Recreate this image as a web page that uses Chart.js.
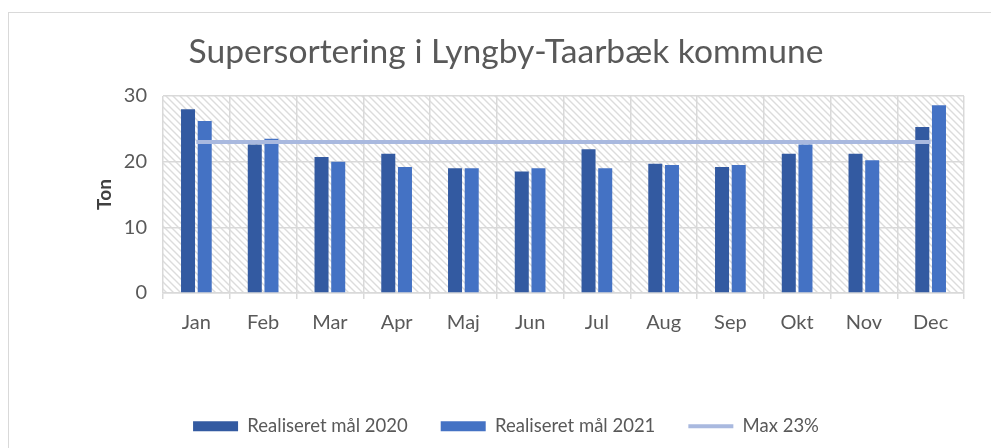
<!DOCTYPE html>
<html>
<head>
<meta charset="utf-8">
<script src="https://cdn.jsdelivr.net/npm/chart.js@4"></script>
<style>
  html, body { margin: 0; padding: 0; background: #fff; }
  #wrap { position: relative; width: 991px; height: 448px; overflow: hidden; }
  #frame { position: absolute; left: 8px; top: 12px; width: 1200px; height: 600px;
           border-left: 1px solid #d9d9d9; border-top: 1px solid #d9d9d9; }
  canvas { position: absolute; left: 0; top: 0; }
</style>
</head>
<body>
<div id="wrap">
  <div id="frame"></div>
  <canvas id="chart" width="991" height="448"></canvas>
</div>
<script>
(function () {
  const months = ['Jan', 'Feb', 'Mar', 'Apr', 'Maj', 'Jun', 'Jul', 'Aug', 'Sep', 'Okt', 'Nov', 'Dec'];
  const goal2020 = [28.0, 22.6, 20.7, 21.2, 19.0, 18.5, 21.9, 19.7, 19.2, 21.2, 21.2, 25.3];
  const goal2021 = [26.2, 23.5, 20.0, 19.2, 19.0, 19.0, 19.0, 19.5, 19.5, 22.6, 20.2, 28.6];
  const maxLine = [23, 23, 23, 23, 23, 23, 23, 23, 23, 23, 23, 23];
  const yTicks = [0, 10, 20, 30];

  const textGray = '#595959';
  const gridGray = '#d9d9d9';
  const fontFamily = 'Lato, "Open Sans", sans-serif';

  // diagonal hatch for the plot area
  function makeHatch() {
    const p = document.createElement('canvas');
    p.width = 7; p.height = 7;
    const c = p.getContext('2d');
    c.fillStyle = '#ffffff';
    c.fillRect(0, 0, 7, 7);
    c.strokeStyle = '#dcdcdc';
    c.lineWidth = 1.4;
    c.beginPath();
    c.moveTo(-1, -1); c.lineTo(8, 8);
    c.moveTo(-8, -1); c.lineTo(1, 8);
    c.moveTo(6, -1); c.lineTo(15, 8);
    c.stroke();
    return p;
  }

  const hatchPlugin = {
    id: 'hatch',
    beforeDraw(chart) {
      const { ctx, chartArea } = chart;
      ctx.save();
      ctx.fillStyle = ctx.createPattern(makeHatch(), 'repeat');
      ctx.fillRect(chartArea.left, chartArea.top, chartArea.right - chartArea.left, chartArea.bottom - chartArea.top);
      ctx.restore();
    }
  };

  const ctx = document.getElementById('chart').getContext('2d');

  new Chart(ctx, {
    type: 'bar',
    data: {
      labels: months,
      datasets: [
        {
          label: 'Realiseret mål 2020',
          data: goal2020,
          backgroundColor: '#335aa1',
          categoryPercentage: 0.5,
          barPercentage: 0.84,
          order: 2
        },
        {
          label: 'Realiseret mål 2021',
          data: goal2021,
          backgroundColor: '#4472c4',
          categoryPercentage: 0.5,
          barPercentage: 0.84,
          order: 2
        },
        {
          type: 'line',
          label: 'Max 23%',
          data: maxLine,
          borderColor: '#a9b9df',
          backgroundColor: '#a9b9df',
          borderWidth: 4,
          pointRadius: 0,
          order: 1
        }
      ]
    },
    options: {
      responsive: false,
      animation: false,
      layout: { padding: { left: 48, right: 27, top: 0, bottom: 14 } },
      scales: {
        x: {
          grid: { color: gridGray, lineWidth: 1.5, tickLength: 6, offset: true },
          border: { color: gridGray, width: 1.5 },
          ticks: { color: textGray, font: { family: fontFamily, size: 20 }, padding: 12 },
          afterFit(scale) { scale.height = 91; }
        },
        y: {
          min: 0,
          max: 30,
          afterBuildTicks(scale) { scale.ticks = yTicks.map(v => ({ value: v })); },
          grid: { color: gridGray, lineWidth: 1.5, tickLength: 0 },
          border: { display: false },
          ticks: { color: textGray, font: { family: fontFamily, size: 20 }, padding: 16 },
          title: {
            display: true,
            text: 'Ton',
            color: '#404040',
            font: { family: fontFamily, size: 19, weight: 'bold' },
            padding: { top: 45, bottom: 0 }
          },
          afterFit(scale) { scale.width = 115; }
        }
      },
      plugins: {
        title: {
          display: true,
          text: 'Supersortering i Lyngby-Taarbæk kommune',
          color: textGray,
          font: { family: fontFamily, size: 33.6, weight: 'normal' },
          padding: { top: 32, bottom: 23.7 }
        },
        legend: {
          position: 'bottom',
          maxHeight: 50,
          labels: {
            color: textGray,
            font: { family: fontFamily, size: 18.5 },
            usePointStyle: true,
            pointStyleWidth: 45,
            boxHeight: 10,
            padding: 33,
            sort: (a, b) => a.datasetIndex - b.datasetIndex,
            generateLabels(chart) {
              const items = Chart.defaults.plugins.legend.labels.generateLabels(chart);
              return items.map(item => {
                if (item.datasetIndex === 2) {
                  item.pointStyle = 'line';
                  item.lineWidth = 4;
                  item.strokeStyle = '#a9b9df';
                } else {
                  item.pointStyle = 'rect';
                  item.lineWidth = 0;
                }
                return item;
              });
            }
          }
        },
        tooltip: { enabled: false }
      }
    },
    plugins: [hatchPlugin]
  });
})();
</script>
</body>
</html>
